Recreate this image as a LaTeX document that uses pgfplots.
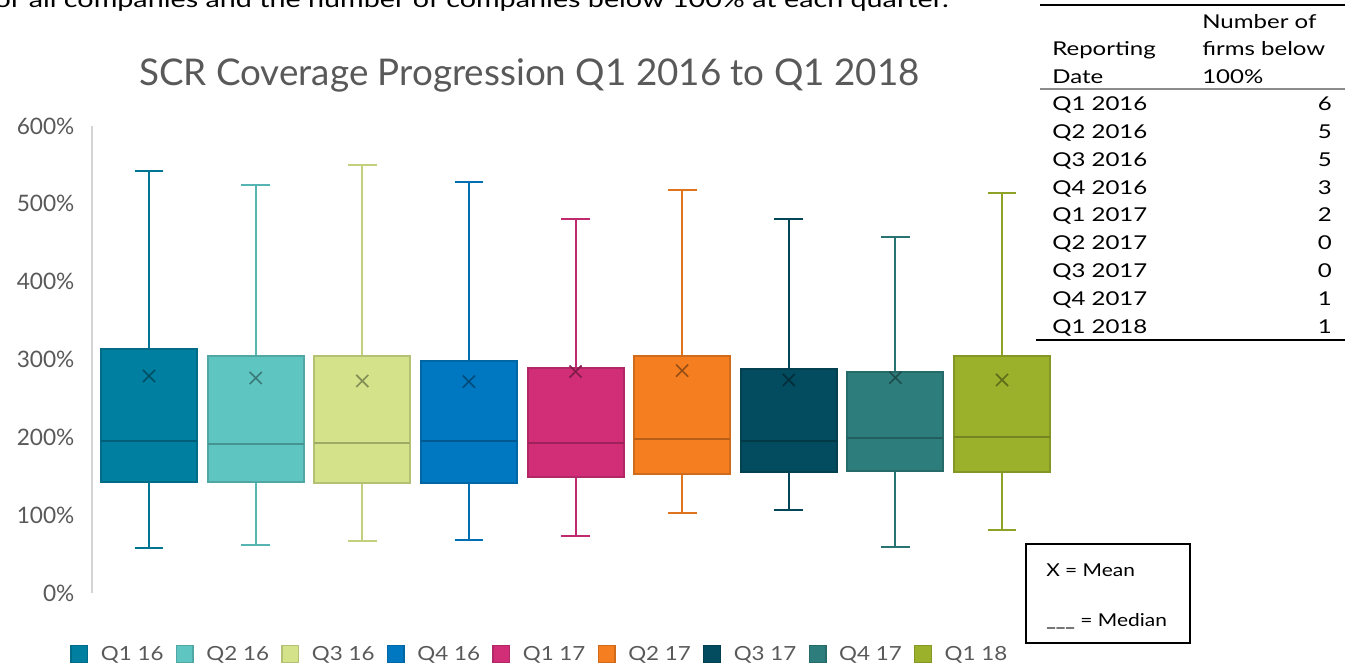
\documentclass[border=0pt]{standalone}
\usepackage{fontspec}
\setmainfont{Lato}
\usepackage{pgfplots}
\usepackage{pgfplotstable}
\usepgfplotslibrary{statistics}
\pgfplotsset{compat=1.18}
\definecolor{cA}{HTML}{007FA0}
\definecolor{cB}{HTML}{5EC5C1}
\definecolor{cC}{HTML}{D4E38A}
\definecolor{cD}{HTML}{0078C1}
\definecolor{cE}{HTML}{D22E78}
\definecolor{cF}{HTML}{F47E20}
\definecolor{cG}{HTML}{034C5F}
\definecolor{cH}{HTML}{2E7D7D}
\definecolor{cI}{HTML}{9BB02B}
\definecolor{txt}{HTML}{595959}

\pgfplotstableread{
pos lw    lq    med   uq    uw    avg
1   58.2  143.1 195.4 313.6 542.8 278.9
2   61.7  142.7 191.5 304.6 524.8 276.3
3   67.2  141.4 193.2 304.6 550.1 272.5
4   68.5  141.8 195.4 298.6 528.7 271.6
5   73.7  148.7 192.4 288.8 481.1 284.5
6   102.8 153.4 198.0 304.6 517.6 285.7
7   106.3 156.0 195.8 288.3 480.7 273.8
8   59.5  156.4 198.8 283.7 457.2 276.7
9   81.0  155.1 200.1 304.2 513.7 273.8
}\stats

\newcommand\bx[3]{% row, position, colour
  \pgfplotstablegetelem{#1}{lw}\of\stats\edef\LW{\pgfplotsretval}%
  \pgfplotstablegetelem{#1}{lq}\of\stats\edef\LQ{\pgfplotsretval}%
  \pgfplotstablegetelem{#1}{med}\of\stats\edef\MED{\pgfplotsretval}%
  \pgfplotstablegetelem{#1}{uq}\of\stats\edef\UQ{\pgfplotsretval}%
  \pgfplotstablegetelem{#1}{uw}\of\stats\edef\UW{\pgfplotsretval}%
  \pgfplotstablegetelem{#1}{avg}\of\stats\edef\AVG{\pgfplotsretval}%
  \edef\doplot{\noexpand\addplot[forget plot, draw=#3!85!black, fill=#3, line width=1.5pt,
    boxplot prepared={draw direction=y, draw position=#2, lower whisker=\LW, lower quartile=\LQ,
      median=\MED, upper quartile=\UQ, upper whisker=\UW,
      box extend=0.9, whisker extend=0.27,
      every whisker/.style={draw=#3!92!black},
      every median/.style={draw=#3!75!black}}]
    coordinates {};
    \noexpand\addplot[forget plot, only marks, mark=x, mark size=6.4pt,
    mark options={draw=#3!62!black, line width=1.2pt}] coordinates {(#2,\AVG)};}%
  \doplot
}
\newcommand\legtxt[1]{\makebox[45pt][l]{\scalebox{1.15}[1]{#1}}}
\newcommand\tbtxt[1]{\scalebox{1.26}[1]{#1}}

\begin{document}
\begin{tikzpicture}
\useasboundingbox (0pt,0pt) rectangle (1008.75pt,-501.75pt);
\begin{axis}[
  at={(69pt,-444.75pt)}, anchor=south west,
  scale only axis, width=722.5pt, height=350.25pt,
  boxplot/draw direction=y,
  xmin=0.465, xmax=9.5, ymin=0, ymax=600,
  hide x axis, axis y line*=left,
  y axis line style={draw=black!17, line width=1.5pt},
  ytick={0,100,...,600},
  yticklabels={0\%,100\%,200\%,300\%,400\%,500\%,600\%},
  ytick style={draw=none},
  yticklabel style={font=\fontsize{17}{20}\selectfont, text=txt, anchor=east, inner sep=0pt, xshift=-13pt},
  clip=false,
  legend columns=9,
  legend style={at={(-0.0228,-0.1306)}, anchor=west, draw=none, fill=none, inner sep=0pt,
    font=\fontsize{14.6}{17}\selectfont, text=txt,
    /tikz/every even column/.append style={column sep=9.1pt},
    /tikz/every odd column/.append style={column sep=7.5pt}},
  legend image code/.code={\draw[#1, line width=1pt] (0pt,-6.2pt) rectangle (12.5pt,6.2pt);},
]
\bx{0}{1}{cA}
\bx{1}{2}{cB}
\bx{2}{3}{cC}
\bx{3}{4}{cD}
\bx{4}{5}{cE}
\bx{5}{6}{cF}
\bx{6}{7}{cG}
\bx{7}{8}{cH}
\bx{8}{9}{cI}
\addlegendimage{fill=cA, draw=cA!85!black}\addlegendentry{\legtxt{Q1 16}}
\addlegendimage{fill=cB, draw=cB!85!black}\addlegendentry{\legtxt{Q2 16}}
\addlegendimage{fill=cC, draw=cC!85!black}\addlegendentry{\legtxt{Q3 16}}
\addlegendimage{fill=cD, draw=cD!85!black}\addlegendentry{\legtxt{Q4 16}}
\addlegendimage{fill=cE, draw=cE!85!black}\addlegendentry{\legtxt{Q1 17}}
\addlegendimage{fill=cF, draw=cF!85!black}\addlegendentry{\legtxt{Q2 17}}
\addlegendimage{fill=cG, draw=cG!85!black}\addlegendentry{\legtxt{Q3 17}}
\addlegendimage{fill=cH, draw=cH!85!black}\addlegendentry{\legtxt{Q4 17}}
\addlegendimage{fill=cI, draw=cI!85!black}\addlegendentry{\legtxt{Q1 18}}
\end{axis}
\begin{scope}[x=0.75pt, y=-0.75pt]
  % cut-off line of running text
  \node[anchor=base east, inner sep=0pt, font=\fontsize{17}{20}\selectfont] at (949,7)
    {\scalebox{1.267}[1]{for all companies and the number of companies below 100\% at each quarter.}};
  % title
  \node[font=\fontsize{27.6}{32}\selectfont, text=txt] at (529.5,75)
    {SCR Coverage Progression Q1 2016 to Q1 2018};
  % table
  \draw[line width=1.1pt] (1040,5) -- (1345,5);
  \draw[line width=1.5pt, draw=black!45] (1040,89) -- (1345,89);
  \draw[line width=1.1pt] (1036,340) -- (1345,340);
  \begin{scope}[every node/.style={inner sep=0pt, font=\fontsize{14.3}{17}\selectfont}]
    \node[anchor=base west] at (1202,28.3) {\tbtxt{Number of}};
    \node[anchor=base west] at (1202,55.5) {\tbtxt{firms below}};
    \node[anchor=base west] at (1202,83) {\tbtxt{100\%}};
    \node[anchor=base west] at (1052,55.5) {\tbtxt{Reporting}};
    \node[anchor=base west] at (1052,83) {\tbtxt{Date}};
    \foreach \q/\v [count=\i from 0] in {Q1 2016/6,Q2 2016/5,Q3 2016/5,Q4 2016/3,Q1 2017/2,Q2 2017/0,Q3 2017/0,Q4 2017/1,Q1 2018/1}{
      \node[anchor=base west] at (1052,110.7+27.8*\i) {\tbtxt{\q}};
      \node[anchor=base east] at (1332,110.7+27.8*\i) {\tbtxt{\v}};
    }
  \end{scope}
  % mean / median key
  \draw[line width=1.5pt] (1026,544) rectangle (1190,643);
  \node[anchor=base west, inner sep=0pt, font=\fontsize{13.3}{16}\selectfont] at (1046,576) {\scalebox{1.18}[1]{X = Mean}};
  \node[anchor=base west, inner sep=0pt, font=\fontsize{13.3}{16}\selectfont] at (1046,626) {\scalebox{1.18}[1]{\_\_\_ = Median}};
\end{scope}
\end{tikzpicture}
\end{document}
